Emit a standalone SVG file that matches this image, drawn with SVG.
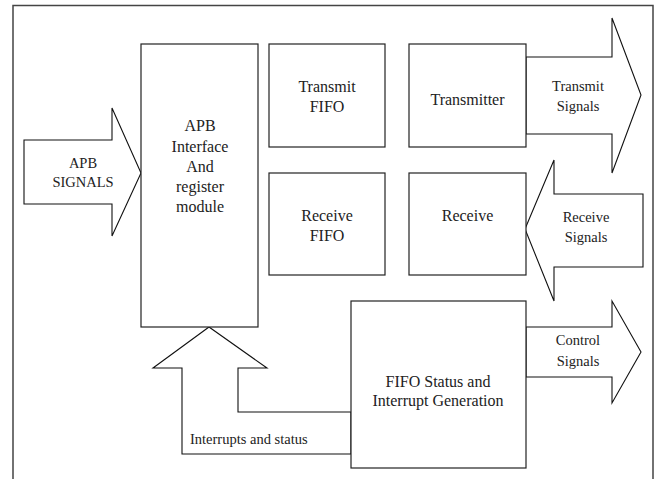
<svg xmlns="http://www.w3.org/2000/svg" width="658" height="479" viewBox="0 0 658 479">
  <style>
    .frame { fill: none; stroke: #444; stroke-width: 1.5; }
    .box { fill: #fff; stroke: #222; stroke-width: 1.2; }
    .arrow { fill: #fff; stroke: #111; stroke-width: 1.1; stroke-linejoin: miter; }
    text { font-family: 'Liberation Serif', 'Times New Roman', 'DejaVu Serif', serif; fill: #222; text-anchor: middle; }
    .lbl { font-size: 16px; }
    .sig { font-size: 14.5px; }
  </style>
  <rect width="658" height="479" fill="#fff"/>
  <!-- outer frame, bottom edge runs off the page -->
  <path class="frame" d="M13,480 V5.5 H653 V480"/>

  <g id="connectors">
    <!-- APB bus into the register module -->
    <polygon class="arrow" points="24,140 112,140 112,108 141,173 112,236 112,204 24,204"/>
    <!-- transmit signals out -->
    <polygon class="arrow" points="526,57 612,57 612,18 641,95 612,173 612,134 526,134"/>
    <!-- receive signals in -->
    <polygon class="arrow" points="643,194 554,194 554,160 525,229 554,301 554,267 643,267"/>
    <!-- control signals out -->
    <polygon class="arrow" points="526,327 612,327 612,301 641,352 612,403 612,377 526,377"/>
    <!-- interrupts and status back to the register module -->
    <polygon class="arrow" points="351,412 238,412 238,368 267,368 209,327 153,368 182,368 182,454 351,454"/>
  </g>

  <g id="apb-signals-label">
    <text class="sig" x="83" y="168" font-family="Liberation Serif, serif">APB</text>
    <text class="sig" x="83" y="187">SIGNALS</text>
  </g>
  <g id="transmit-signals-label">
    <text class="sig" x="578" y="91">Transmit</text>
    <text class="sig" x="578" y="111">Signals</text>
  </g>
  <g id="receive-signals-label">
    <text class="sig" x="586" y="222">Receive</text>
    <text class="sig" x="586" y="242">Signals</text>
  </g>
  <g id="control-signals-label">
    <text class="sig" x="578" y="345">Control</text>
    <text class="sig" x="578" y="366">Signals</text>
  </g>
  <g id="interrupts-label">
    <text class="sig" x="190" y="444" style="text-anchor:start">Interrupts and status</text>
  </g>

  <g id="apb-interface">
    <rect class="box" x="141" y="44" width="117" height="283"/>
    <text class="lbl" x="200" y="131">APB</text>
    <text class="lbl" x="200" y="152">Interface</text>
    <text class="lbl" x="200" y="172">And</text>
    <text class="lbl" x="200" y="192">register</text>
    <text class="lbl" x="200" y="212">module</text>
  </g>
  <g id="transmit-fifo">
    <rect class="box" x="269" y="44" width="116" height="103"/>
    <text class="lbl" x="327" y="92">Transmit</text>
    <text class="lbl" x="327" y="112">FIFO</text>
  </g>
  <g id="transmitter">
    <rect class="box" x="409" y="44" width="117" height="103"/>
    <text class="lbl" x="467.5" y="105">Transmitter</text>
  </g>
  <g id="receive-fifo">
    <rect class="box" x="269" y="173" width="116" height="102"/>
    <text class="lbl" x="327" y="221">Receive</text>
    <text class="lbl" x="327" y="241">FIFO</text>
  </g>
  <g id="receive">
    <rect class="box" x="409" y="173" width="117" height="102"/>
    <text class="lbl" x="467.5" y="221">Receive</text>
  </g>
  <g id="fifo-status">
    <rect class="box" x="351" y="301" width="175" height="167"/>
    <text class="lbl" x="438" y="387">FIFO Status and</text>
    <text class="lbl" x="438" y="406">Interrupt Generation</text>
  </g>
</svg>
